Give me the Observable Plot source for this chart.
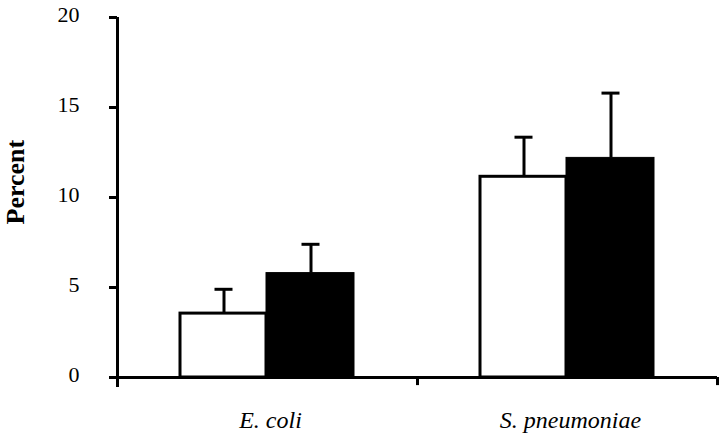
<!DOCTYPE html>
<html><head><meta charset="utf-8">
<script src="https://cdn.jsdelivr.net/npm/d3@7"></script>
<script src="https://cdn.jsdelivr.net/npm/@observablehq/plot@0.6"></script>
<style>body{margin:0;background:#fff}</style>
</head><body><div id="chart"></div>
<script>
const categories = ["E. coli", "S. pneumoniae"];
const openValues = [3.55, 11.15];
const openErrors = [1.35, 2.2];
const filledValues = [5.8, 12.2];
const filledErrors = [1.6, 3.6];
const yTicks = [0, 5, 10, 15, 20];

const openRows = categories.map((c, i) => ({category: c, value: openValues[i], top: openValues[i] + openErrors[i]}));
const filledRows = categories.map((c, i) => ({category: c, value: filledValues[i], top: filledValues[i] + filledErrors[i]}));

const chart = Plot.plot({
  width: 720,
  height: 440,
  marginLeft: 117,
  marginRight: 3,
  marginTop: 17,
  marginBottom: 63,
  style: {fontFamily: "Liberation Serif", background: "white", color: "black"},
  x: {domain: categories, padding: 0, axis: null},
  y: {domain: [0, 20], axis: null},
  marks: [
    Plot.barY(openRows, {x: "category", y: "value", fill: "white", stroke: "black", strokeWidth: 3, insetLeft: 63, insetRight: 151}),
    Plot.barY(filledRows, {x: "category", y: "value", fill: "black", stroke: "black", strokeWidth: 1, insetLeft: 149, insetRight: 63}),
    Plot.ruleX(openRows, {x: "category", y1: "value", y2: "top", dx: -43.5, strokeWidth: 3}),
    Plot.tickY(openRows, {x: "category", y: "top", dx: -43.5, insetLeft: 141, insetRight: 141, strokeWidth: 3}),
    Plot.ruleX(filledRows, {x: "category", y1: "value", y2: "top", dx: 43.5, strokeWidth: 3}),
    Plot.tickY(filledRows, {x: "category", y: "top", dx: 43.5, insetLeft: 141, insetRight: 141, strokeWidth: 3}),
    Plot.ruleY([0], {strokeWidth: 3}),
    Plot.ruleX([categories[0]], {x: d => d, dx: -150, y1: -0.55, y2: 20, strokeWidth: 3}),
    Plot.ruleX(categories, {x: d => d, dx: 150, y1: 0, y2: -0.45, strokeWidth: 3}),
    Plot.axisY({ticks: yTicks, tickSize: 8, strokeWidth: 3, tickFormat: () => "", label: null}),
    Plot.axisY({ticks: yTicks, tickSize: 0, tickPadding: 38, dy: -3, fontSize: 22, label: null}),
    Plot.axisX({tickSize: 0, tickPadding: 33, dx: 3, fontSize: 24, fontStyle: "italic", label: null}),
    Plot.text(["Percent"], {text: d => d, frameAnchor: "left", rotate: -90, dx: -102, dy: 27, fontSize: 26, fontWeight: "bold"})
  ]
});
document.getElementById("chart").appendChild(chart);
</script>
</body></html>
